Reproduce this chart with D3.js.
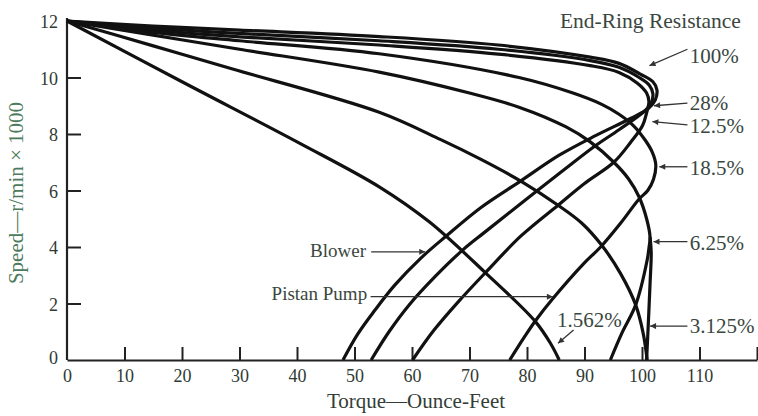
<!DOCTYPE html>
<html>
<head>
<meta charset="utf-8">
<script src="https://cdn.jsdelivr.net/npm/d3@7"></script>
<style>
  body { margin: 0; background: #fff; }
  text { font-family: "Liberation Serif", "DejaVu Serif", serif; }
</style>
</head>
<body>
<div id="graf"></div>
<script>
// datos: [torque (oz-ft), speed (r/min x 1000)]
r100 = [[0,12],[15,11.82],[30,11.68],[54.3,11.45],[75,11.15],[91,10.72],[96,10.5],[99.7,10.12],[101.9,9.85],[102.6,9.56],[102.3,9.2],[101.1,8.9],[98,8.55],[92,7.95],[85.6,7.25],[79,6.35],[72,5.4],[65.9,4.38],[61.5,3.6],[57,2.65],[53.5,1.75],[50.5,0.9],[48,0]]
r28 = [[0,12],[15,11.75],[30,11.56],[54.3,11.3],[75,11.0],[91,10.6],[96,10.36],[99.5,10.0],[101.3,9.72],[101.9,9.42],[101.6,9.1],[100.4,8.8],[96,8.15],[92,7.6],[85.6,6.6],[79,5.55],[72.5,4.5],[68.8,3.89],[64,2.95],[59.5,1.95],[56,1.0],[52.9,0]]
r18_5 = [[0,12],[15,11.68],[30,11.44],[54.3,11.15],[75,10.83],[91,10.42],[96,10.18],[99.2,9.8],[100.8,9.45],[101.2,9.15],[100.8,8.75],[100.1,8.3],[98,7.7],[95.1,7.0],[90,6.25],[85.4,5.48],[79,4.4],[72.9,3.12],[68,2.05],[63.8,1.05],[60.1,0]]
r12_5 = [[0,12],[15,11.6],[30,11.3],[54.3,10.84],[78.6,10.0],[88,9.45],[93,9.05],[96,8.7],[98.5,8.3],[100.6,7.77],[101.8,7.35],[102.4,6.9],[102.0,6.4],[101.0,6.0],[99.5,5.7],[96.3,4.85],[92.8,4.0],[89.9,3.42],[84.4,2.15],[81.5,1.4],[79.5,0.8],[77,0]]
r6_25 = [[0,12],[15,11.5],[30,11.0],[54.3,10.19],[70,9.45],[78.6,8.95],[86.8,8.25],[91,7.72],[95.1,7.0],[97.7,6.4],[99.5,5.77],[100.8,5.0],[101.4,4.35],[101.2,3.95],[100.9,3.54],[98.9,1.95],[96.5,0.95],[94.5,0]]
r6_25b = [[101.4,4.35],[101.6,3.8],[101.4,2.7],[101.1,1.3],[100.8,0]]
r3_125 = [[0,12],[15,11.12],[28.8,10.3],[54.3,8.77],[65,7.8],[72,7.1],[79.2,6.3],[85.4,5.48],[89.5,4.85],[93,4.06],[96.3,3.05],[98.9,1.95],[100.2,0.95],[100.9,0]]
r1_562 = [[0,12],[20,9.85],[40.5,7.67],[54.3,6.13],[63,4.89],[72.6,3.12],[81.5,1.35],[84.2,0.55],[85.6,0]]

curvas = [r100, r28, r18_5, r12_5, r6_25, r6_25b, r3_125, r1_562]

xTicks = [0, 10, 20, 30, 40, 50, 60, 70, 80, 90, 100, 110, 120]
yTicks = [0, 2, 4, 6, 8, 10, 12]

// etiquetas: texto, posicion del texto, inicio y punta de la flecha
pctLabels = ['100%', '28%', '12.5%', '18.5%', '6.25%', '3.125%', '1.562%']
pctAt     = [[108.3,10.51],[108.3,8.85],[108.3,8.04],[108.3,6.55],[108.3,3.89],[108.3,0.96],[85.2,1.17]]
pctFrom   = [[107.9,11.0],[107.9,9.09],[107.9,8.32],[107.9,6.84],[107.9,4.19],[107.9,1.2],[88.1,1.06]]
pctTo     = [[101.3,10.42],[102.1,9.0],[101.8,8.44],[103.0,6.84],[102.0,4.19],[101.4,1.2],[85.4,0.59]]

loadLabels = ['Blower', 'Pistan Pump']
loadAt     = [[52.0,3.65],[52.2,2.12]]
loadFrom   = [[52.9,3.83],[52.8,2.24]]
loadTo     = [[62.3,3.83],[84.5,2.24]]

ancho_total = 758
alto_total = 416

svg = d3.select('#graf').append('svg')
        .attr('width', ancho_total)
        .attr('height', alto_total)

x = d3.scaleLinear().domain([0, 120]).range([67, 757])
y = d3.scaleLinear().domain([0, 12]).range([360, 21])

// EJE Y
yAxis = d3.axisLeft(y)
          .tickValues(yTicks)
          .tickSize(-14)
          .tickSizeOuter(0)
          .tickPadding(9)

gy = svg.append('g')
        .attr('transform', `translate(${ x(0) },0)`)
        .call(yAxis)

gy.select('.domain').attr('stroke', '#222').attr('stroke-width', 2.2)
  .attr('d', `M0,${ y(0) }V18`)
gy.selectAll('.tick line')
  .attr('stroke', '#222').attr('stroke-width', 2)
  .attr('display', d => (d == 0 || d == 12) ? 'none' : null)
gy.selectAll('.tick text')
  .attr('font-size', 18)
  .attr('font-family', '"Liberation Serif", serif')
  .attr('fill', '#2f3a34')
  .attr('dy', d => d == 0 ? '0.2em' : '0.38em')

// EJE X
xAxis = d3.axisBottom(x)
          .tickValues(xTicks)
          .tickSize(-13)
          .tickSizeOuter(0)
          .tickPadding(9)
          .tickFormat(d => d == 120 ? '' : d)

gx = svg.append('g')
        .attr('transform', `translate(0,${ y(0) })`)
        .call(xAxis)

gx.select('.domain').attr('stroke', '#222').attr('stroke-width', 2.2)
gx.selectAll('.tick line')
  .attr('stroke', '#222').attr('stroke-width', 2)
  .attr('display', d => d == 0 ? 'none' : null)
gx.selectAll('.tick text')
  .attr('font-size', 18)
  .attr('font-family', '"Liberation Serif", serif')
  .attr('fill', '#2f3a34')

// titulos
svg.append('text')
   .attr('x', 416)
   .attr('y', 408)
   .attr('text-anchor', 'middle')
   .attr('font-size', 21)
   .attr('fill', '#333d37')
   .text('Torque\u2014Ounce-Feet')

svg.append('text')
   .attr('transform', 'translate(23,193) rotate(-90)')
   .attr('text-anchor', 'middle')
   .attr('font-size', 21)
   .attr('fill', '#4d7a5c')
   .text('Speed\u2014r/min \u00d7 1000')

svg.append('text')
   .attr('x', x(117.2))
   .attr('y', y(11.75))
   .attr('text-anchor', 'end')
   .attr('font-size', 21.5)
   .attr('fill', '#3a4740')
   .text('End-Ring Resistance')

// CURVAS
linea = d3.line()
          .x(d => x(d[0]))
          .y(d => y(d[1]))
          .curve(d3.curveCatmullRom.alpha(0.5))

svg.append('g')
   .selectAll('path')
   .data(curvas)
   .enter().append('path')
   .attr('d', linea)
   .attr('fill', 'none')
   .attr('stroke', '#111')
   .attr('stroke-width', 3.2)
   .attr('stroke-linejoin', 'round')

// FLECHAS
svg.append('defs').append('marker')
   .attr('id', 'punta')
   .attr('viewBox', '0 0 10 10')
   .attr('refX', 10).attr('refY', 5)
   .attr('markerWidth', 8).attr('markerHeight', 6)
   .attr('markerUnits', 'userSpaceOnUse')
   .attr('orient', 'auto')
   .append('path')
   .attr('d', 'M0,0L10,5L0,10Z')
   .attr('fill', '#333')

function flechas(from, to) {
  svg.append('g')
     .selectAll('line')
     .data(from)
     .enter().append('line')
     .attr('x1', d => x(d[0]))
     .attr('y1', d => y(d[1]))
     .attr('x2', (d, i) => x(to[i][0]))
     .attr('y2', (d, i) => y(to[i][1]))
     .attr('stroke', '#333')
     .attr('stroke-width', 1.3)
     .attr('marker-end', 'url(#punta)')
}

flechas(pctFrom, pctTo)
flechas(loadFrom, loadTo)

svg.append('g')
   .selectAll('text')
   .data(pctLabels)
   .enter().append('text')
   .attr('x', (d, i) => x(pctAt[i][0]))
   .attr('y', (d, i) => y(pctAt[i][1]))
   .attr('font-size', 21)
   .attr('fill', '#3a4740')
   .text(d => d)

svg.append('g')
   .selectAll('text')
   .data(loadLabels)
   .enter().append('text')
   .attr('x', (d, i) => x(loadAt[i][0]))
   .attr('y', (d, i) => y(loadAt[i][1]))
   .attr('text-anchor', 'end')
   .attr('font-size', 19)
   .attr('fill', '#3a4740')
   .text(d => d)
</script>
</body>
</html>
